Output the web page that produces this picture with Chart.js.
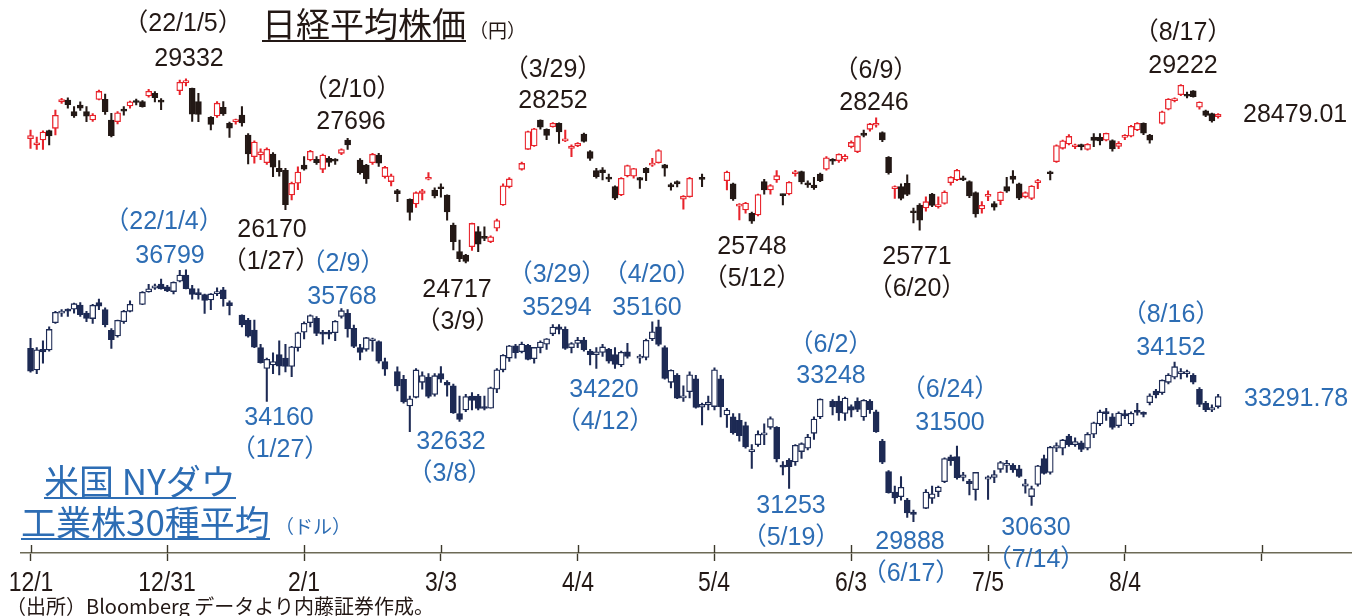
<!DOCTYPE html>
<html lang="ja">
<head>
<meta charset="utf-8">
<title>日経平均株価と米国NYダウ</title>
<script src="https://cdn.jsdelivr.net/npm/chart.js@4.4.1/dist/chart.umd.min.js"></script>
<style>
  html, body { margin: 0; padding: 0; background: #fff; }
  #wrap { position: relative; width: 1368px; height: 616px; overflow: hidden; }
  #chart { position: absolute; left: 0; top: 0; }
  .note { position: absolute; white-space: nowrap; font-family: "Liberation Sans", "Noto Sans CJK JP", sans-serif;
          font-size: 25px; line-height: 25px; transform: translate(-50%, -50%); }
  .note.left { transform: translate(0, -50%); }
  .tick { position: absolute; white-space: nowrap; font-family: "Liberation Sans", sans-serif; font-size: 28px;
          line-height: 28px; color: #231815; transform: translateX(-50%) scaleX(0.82); }
  .ttl { position: absolute; white-space: nowrap; font-family: "Noto Sans CJK JP", sans-serif; line-height: 1; }
  .ttl .u { display: inline-block; line-height: 34px; border-bottom: 2px solid currentColor; }
  .unit { position: absolute; white-space: nowrap; font-family: "Noto Sans CJK JP", sans-serif; font-size: 19px; line-height: 1; }
  #nkTitle { left: 262px; top: 6px; font-size: 34px; color: #231815; }
  #nkUnit { left: 469px; top: 20px; color: #231815; }
  #djTitle1 { left: 44px; top: 462px; font-size: 35px; color: #2d6db4; }
  #djTitle2 { left: 21px; top: 503px; font-size: 35px; color: #2d6db4; }
  #djUnit { left: 275px; top: 516px; color: #2d6db4; }
  #source { position: absolute; left: 6px; top: 596px; white-space: nowrap; font-family: "Noto Sans CJK JP", sans-serif;
            font-size: 20px; line-height: 1; color: #231815; }
</style>
</head>
<body>
<div id="wrap">
  <canvas id="chart" width="1368" height="616"></canvas>
  <div class="ttl" id="nkTitle"><span class="u">日経平均株価</span></div>
  <div class="unit" id="nkUnit">（円）</div>
  <div class="ttl" id="djTitle1"><span class="u">米国 NYダウ</span></div>
  <div class="ttl" id="djTitle2"><span class="u">工業株30種平均</span></div>
  <div class="unit" id="djUnit">（ドル）</div>
  <div id="source">（出所）Bloomberg データより内藤証券作成。</div>
</div>
<script>
// 期間: 2021/12/1 〜 2022/8/25 の営業日（土日を除いた平日で横軸を刻む）
const nkHolidays = ['2021-12-31', '2022-01-03', '2022-01-10', '2022-02-11', '2022-02-23', '2022-03-21',
  '2022-04-29', '2022-05-03', '2022-05-04', '2022-05-05', '2022-07-18', '2022-08-11'];
const djHolidays = ['2021-12-24', '2022-01-17', '2022-02-21', '2022-04-15', '2022-05-30', '2022-06-20', '2022-07-04'];

// 日経平均（円） 12月 / 1月 / 2月 / 3月 / 4月 / 5月 / 6月 / 7月 / 8月
const nkOpen = [
  27858, 27700, 27824, 28062, 28122, 28795, 28846, 28548, 28718, 28548, 28335, 28863, 28863, 28335, 28292, 28616, 28693, 28830, 28804, 28948, 29017, 28820,
  29085, 29290, 29145, 28804, 28403, 28437, 28659, 28250, 28292, 28463, 27952, 27397, 27440, 27244, 27466, 27100, 27050, 26417, 26716,
  27184, 27312, 27329, 27073, 27355, 27300, 27482, 27823, 27312, 27184, 27244, 27440, 26886, 26760, 26528, 26306, 26187, 26460,
  26820, 26545, 26613, 26417, 25650, 24968, 24883, 25096, 25480, 25330, 25220, 25565, 26161, 26630, 27073, 27585, 27670, 28330, 28096, 28165, 28250, 27800,
  27610, 27670, 27977, 27525, 27040, 27060, 26860, 26630, 26417, 26903, 26900, 26860, 27099, 27180, 27244, 27185, 26680, 26760, 26310, 26375,
  26860, 26784, 26700, 26130, 26034, 25949, 25906, 26758, 26545, 26800, 26420, 26443, 26960, 27014, 26720, 26673, 26954, 27074, 27320,
  27295, 27330, 27653, 27525, 28000, 28096, 28200, 28011, 27380, 26580, 26630, 26715, 26000, 26160, 26085, 26440, 26120, 26200, 26730, 26800, 26850, 26760,
  26480, 26060, 26380, 26200, 26270, 26630, 26900, 26700, 26370, 26330, 26730, 27000, 27270, 27610, 27720, 27650, 27700, 27580, 27900, 27890,
  27820, 27810, 27660, 27890, 27920, 28080, 28250, 27950, 28250, 28610, 28830, 28980, 28990, 29080, 28660, 28570, 28500, 28420
];
const nkHigh = [
  28079, 27900, 28060, 28080, 28591, 28889, 28900, 28676, 28800, 28676, 28500, 29100, 29000, 28505, 28550, 28680, 28820, 28870, 28830, 29120, 29060, 28880,
  29358, 29388, 29150, 29017, 28420, 28804, 28804, 28280, 28360, 28676, 27990, 27800, 27600, 27620, 27500, 27300, 27100, 26750, 27140,
  27397, 27560, 27400, 27460, 27400, 27350, 27600, 27866, 27350, 27200, 27480, 27480, 27150, 26950, 26560, 26320, 26500, 26560,
  26988, 26600, 26700, 26420, 25700, 25266, 24900, 25700, 25607, 25600, 25370, 25800, 26700, 26860, 27260, 28050, 28120, 28340, 28110, 28270, 28260, 28080,
  27700, 27760, 28000, 27550, 27100, 27120, 26950, 26650, 26860, 27180, 27100, 26870, 27120, 27355, 27580, 27200, 26720, 26780, 26400, 26870,
  26950, 27030, 26720, 26200, 26230, 25980, 26440, 26820, 26680, 27040, 26440, 26760, 27050, 27030, 26780, 26870, 26980, 27400, 27350,
  27470, 27450, 27800, 27930, 28080, 28250, 28389, 28030, 27400, 26650, 26700, 26930, 26080, 26200, 26370, 26460, 26370, 26520, 26890, 27070, 26900, 26780,
  26500, 26250, 26520, 26250, 26500, 26870, 27040, 26720, 26500, 26660, 26820, 27030, 27700, 27820, 27960, 27720, 27720, 27730, 27990, 27990,
  28000, 27830, 27780, 27960, 28200, 28270, 28260, 27970, 28560, 28880, 28900, 29240, 29050, 29090, 28800, 28590, 28510, 28500
];
const nkLow = [
  27611, 27580, 27585, 27696, 27951, 28760, 28640, 28400, 28580, 28292, 28300, 28850, 28480, 27900, 28233, 28460, 28640, 28720, 28660, 28920, 28800, 28600,
  28980, 29204, 28300, 28292, 28079, 28400, 28450, 27892, 28230, 28180, 27210, 27230, 27320, 27200, 26886, 26900, 26044, 26290, 26550,
  27050, 27290, 27200, 26990, 27150, 27200, 27450, 27580, 26950, 26715, 27200, 27150, 26850, 26650, 26247, 25775, 26100, 26290,
  26800, 26340, 26360, 25775, 25010, 24712, 24681, 25000, 24968, 25250, 25200, 25500, 26150, 26600, 27050, 27580, 27660, 28100, 27830, 28150, 27738, 27780,
  27400, 27650, 27770, 27300, 26850, 26800, 26760, 26300, 26400, 26880, 26850, 26588, 26780, 27150, 27230, 26900, 26540, 26620, 26051, 26360,
  26630, 26545, 26280, 25778, 25950, 25688, 25880, 26440, 26440, 26740, 26162, 26420, 26900, 26700, 26610, 26560, 26760, 27050, 27200,
  27250, 27280, 27620, 27500, 27900, 28050, 28150, 27780, 26950, 26330, 26290, 26400, 25700, 25520, 26000, 26120, 26080, 26180, 26670, 26780, 26780, 26350,
  25850, 25950, 26270, 26030, 26170, 26480, 26720, 26300, 26340, 26300, 26580, 26800, 27250, 27590, 27700, 27600, 27570, 27560, 27650, 27700,
  27800, 27540, 27600, 27830, 27900, 28060, 27960, 27740, 28230, 28590, 28800, 28960, 28900, 28920, 28610, 28420, 28280, 28380
];
const nkClose = [
  27935, 27753, 28029, 27927, 28455, 28860, 28725, 28437, 28640, 28432, 28459, 29066, 28545, 27937, 28517, 28562, 28798, 28782, 28676, 29069, 28906, 28791,
  29301, 29332, 28487, 28478, 28222, 28765, 28489, 28124, 28333, 28257, 27467, 27772, 27522, 27588, 27131, 27011, 26170, 26717, 27001,
  27078, 27533, 27241, 27439, 27248, 27284, 27579, 27696, 26990, 26830, 27460, 27232, 27122, 26910, 26449, 25970, 26476, 26526,
  26844, 26393, 26577, 25985, 25221, 24790, 24717, 25690, 25162, 25307, 25346, 25762, 26652, 26827, 27224, 28040, 28110, 28149, 27943, 28252, 28027, 27821,
  27665, 27736, 27787, 27350, 26888, 26985, 26821, 26334, 26843, 27172, 27093, 26799, 26985, 27217, 27553, 27105, 26620, 26700, 26386, 26847,
  26818, 27003, 26319, 26167, 26213, 25748, 26427, 26547, 26659, 26911, 26402, 26739, 27001, 26748, 26677, 26604, 26781, 27369, 27279,
  27457, 27413, 27761, 27915, 27943, 28234, 28246, 27824, 26987, 26629, 26326, 26431, 25963, 25771, 26246, 26149, 26171, 26491, 26871, 27049, 26804, 26393,
  25935, 26153, 26423, 26107, 26490, 26517, 26812, 26336, 26478, 26643, 26788, 26961, 27680, 27803, 27914, 27699, 27655, 27715, 27815, 27801,
  27993, 27594, 27741, 27932, 28175, 28249, 27999, 27819, 28546, 28871, 28868, 29222, 28942, 28930, 28794, 28452, 28313, 28479
];

// NYダウ（ドル） 12月 / 1月 / 2月 / 3月 / 4月 / 5月 / 6月 / 7月 / 8月
const djOpen = [
  34681, 34055, 34650, 34633, 35422, 35700, 35780, 35810, 35931, 35700, 35540, 36000, 35800, 35200, 35040, 35450, 35750, 35950, 36308, 36420, 36540, 36460,
  36320, 36620, 36800, 36410, 36250, 36230, 36080, 36260, 36370, 36000, 35640, 35500, 35210, 34700, 34100, 34200, 34500, 34400, 34160, 34700,
  35150, 35420, 35550, 35150, 35100, 35134, 35600, 35692, 35259, 34700, 34652, 34900, 34874, 34300, 34007, 33786, 33016, 33266, 33700,
  33850, 33350, 33950, 33700, 33600, 32800, 32900, 33300, 33300, 33000, 32950, 33500, 34060, 34400, 34750, 34580, 34770, 34380, 34700, 34800, 35100, 35300, 35230,
  34700, 34820, 34920, 34600, 34500, 34560, 34652, 34500, 34200, 34580, 34400, 34420, 34950, 35300, 34700, 33700, 33900, 33250, 33430, 33800,
  32980, 33050, 33000, 33800, 32760, 32700, 32600, 32450, 31700, 31900, 32180, 32400, 32400, 31300, 31450, 31400, 31700, 31800, 32227, 32700, 33150,
  33150, 32800, 33000, 33150, 32700, 33150, 32850, 32000, 31120, 30530, 30398, 30302, 29950, 30061, 30350, 30542, 30831, 31550, 31553, 30950, 30850,
  30600, 30900, 30950, 31187, 31300, 31300, 31200, 30700, 30400, 30750, 31500, 31100, 31800, 31800, 32150, 31900, 31950, 31800, 32200, 32500,
  32800, 32700, 32450, 32800, 32500, 32850, 32800, 33112, 33450, 33400, 33700, 33850, 33950, 33950, 33900, 33500, 33100, 32900, 33000
];
const djHigh = [
  34970, 34700, 34900, 35300, 35750, 35800, 35820, 35990, 36000, 35750, 35950, 36100, 35850, 35250, 35500, 35780, 36050, 36320, 36530, 36540, 36680, 36500,
  36600, 36934, 36950, 36500, 36400, 36250, 36260, 36430, 36440, 36050, 35650, 35550, 35500, 34800, 34400, 34550, 34900, 34800, 34740, 35150,
  35450, 35650, 35600, 35200, 35200, 35480, 35830, 35800, 35350, 34800, 35000, 34980, 34900, 34400, 34150, 33900, 33300, 34100, 34000,
  33950, 33950, 34152, 33750, 33650, 33300, 33350, 33400, 33350, 33300, 33560, 34100, 34500, 34770, 34800, 34860, 34800, 34710, 34900, 34960, 35370, 35370, 35300,
  34850, 35000, 35000, 34650, 34700, 34800, 34680, 34700, 34600, 34826, 34500, 34950, 35450, 35500, 34750, 34060, 33950, 33600, 34000, 33900,
  33100, 33300, 34120, 33900, 32950, 32800, 32800, 32550, 31900, 32300, 32500, 32700, 32420, 31409, 31500, 31900, 31950, 32200, 32700, 33220, 33200,
  33300, 33270, 33050, 33250, 33200, 33200, 32900, 32050, 31150, 30700, 30975, 30350, 30013, 30600, 30700, 30700, 31520, 31600, 31861, 31100, 30900,
  31100, 31000, 31150, 31420, 31450, 31350, 31300, 30900, 30700, 31300, 31600, 31850, 31950, 32050, 32200, 32100, 32000, 32250, 32550, 32900,
  32950, 32800, 32850, 32900, 32850, 33093, 32850, 33365, 33500, 33770, 33950, 34281, 34100, 34050, 33950, 33550, 33150, 33050, 33350
];
const djLow = [
  33990, 33950, 34250, 34600, 35400, 35600, 35600, 35700, 35600, 35450, 35400, 35800, 35300, 34680, 35000, 35400, 35730, 35940, 36300, 36380, 36390, 36320,
  36250, 36600, 36400, 36100, 36100, 35692, 35800, 36200, 35900, 35643, 35300, 35000, 34700, 34250, 33150, 33950, 33911, 34000, 33863, 34600,
  34950, 35300, 35050, 34800, 34950, 34900, 35550, 35000, 34700, 34344, 34600, 34600, 34250, 33900, 33450, 33100, 32272, 33250, 33500,
  33250, 33300, 33700, 33300, 32800, 32570, 32850, 32900, 32900, 32900, 32950, 33400, 34000, 34300, 34400, 34550, 34350, 34250, 34550, 34650, 35050, 35100, 34650,
  34550, 34700, 34600, 34200, 34100, 34450, 34250, 34100, 34150, 34400, 34250, 34350, 34900, 34750, 33790, 33540, 33230, 33150, 33250, 32950,
  32467, 32900, 32900, 32700, 32400, 32200, 32000, 31800, 31216, 31850, 31900, 32350, 31400, 31023, 30638, 31300, 31500, 31750, 32050, 32650, 32756,
  32600, 32600, 32700, 32850, 32600, 32800, 32250, 31350, 30500, 30200, 30300, 29800, 29676, 30050, 30200, 30400, 30800, 31300, 30900, 30850, 30446,
  30300, 30321, 30800, 31100, 31100, 31100, 30950, 30500, 30143, 30700, 31050, 31050, 31700, 31600, 31850, 31850, 31700, 31750, 32100, 32450,
  32600, 32350, 32400, 32650, 32450, 32750, 32700, 33050, 33250, 33350, 33650, 33800, 33800, 33850, 33650, 33000, 32850, 32850, 32950
];
const djClose = [
  34022, 34640, 34580, 35227, 35719, 35754, 35754, 35971, 35650, 35544, 35927, 35897, 35365, 34932, 35492, 35754, 35950, 36302, 36398, 36488, 36398, 36338,
  36585, 36799, 36407, 36236, 36231, 36068, 36252, 36290, 36113, 35911, 35368, 35029, 34715, 34265, 34364, 34297, 34168, 34160, 34725, 35131,
  35405, 35629, 35111, 35089, 35091, 35463, 35768, 35241, 34738, 34566, 34989, 34934, 34312, 34079, 33596, 33131, 33223, 34058, 33893,
  33294, 33891, 33794, 33614, 32817, 32632, 33286, 33174, 32944, 32945, 33544, 34063, 34480, 34754, 34553, 34807, 34358, 34707, 34861, 34955, 35294, 35228, 34678,
  34818, 34921, 34641, 34496, 34583, 34721, 34308, 34220, 34564, 34451, 34412, 34911, 35160, 34792, 33811, 34049, 33240, 33301, 33916, 32977,
  33061, 33128, 34061, 32997, 32899, 32246, 32161, 31834, 31730, 32197, 32223, 32655, 31490, 31253, 31262, 31880, 31928, 32120, 32637, 33213, 32990,
  32813, 33248, 32899, 32915, 33180, 32910, 32272, 31393, 30516, 30365, 30668, 29927, 29888, 30530, 30483, 30677, 31500, 31438, 30946, 31029, 30775,
  31097, 30967, 31037, 31384, 31338, 31173, 30981, 30772, 30630, 31288, 31072, 31827, 31874, 32036, 31899, 31990, 31761, 32197, 32529, 32845,
  32798, 32396, 32812, 32726, 32803, 32832, 32774, 33309, 33336, 33761, 33912, 34152, 33980, 33999, 33706, 33063, 32909, 32969, 33291
];

// 横軸の目盛り
const tickDates = ['2021-12-01', '2021-12-31', '2022-02-01', '2022-03-03', '2022-04-04', '2022-05-04', '2022-06-03', '2022-07-05', '2022-08-04', '2022-09-05'];
const tickLabels = ['12/1', '12/31', '2/1', '3/3', '4/4', '5/4', '6/3', '7/5', '8/4', ''];

// 注記（テキスト, 中心x, 中心y）
const nkNotes = [
  ['（22/1/5）', 183, 22], ['29332', 189, 57],
  ['（2/10）', 352, 88], ['27696', 351, 120],
  ['26170', 272, 228], ['（1/27）', 271, 260],
  ['24717', 457, 288], ['（3/9）', 458, 320],
  ['（3/29）', 553, 68], ['28252', 553, 99],
  ['25748', 752, 245], ['（5/12）', 752, 277],
  ['（6/9）', 876, 69], ['28246', 874, 101],
  ['25771', 917, 255], ['（6/20）', 917, 287],
  ['（8/17）', 1183, 31], ['29222', 1183, 64]
];
const djNotes = [
  ['（22/1/4）', 164, 220], ['36799', 170, 254],
  ['（2/9）', 343, 262], ['35768', 342, 295],
  ['（3/29）', 557, 273], ['35294', 557, 306],
  ['（4/20）', 652, 273], ['35160', 647, 306],
  ['34160', 279, 416], ['（1/27）', 280, 448],
  ['32632', 451, 440], ['（3/8）', 450, 472],
  ['34220', 604, 388], ['（4/12）', 605, 420],
  ['（6/2）', 831, 343], ['33248', 831, 374],
  ['（6/24）', 950, 388], ['31500', 950, 421],
  ['31253', 791, 504], ['（5/19）', 791, 536],
  ['29888', 910, 540], ['（6/17）', 911, 572],
  ['30630', 1036, 526], ['（7/14）', 1036, 558],
  ['（8/16）', 1171, 313], ['34152', 1171, 346]
];
const lastNotes = [['28479.01', 1243, 113, '#231815'], ['33291.78', 1244, 397, '#2d6db4']];

const RED = '#e8232b', BLACK = '#231815', NAVY = '#1d2a54', BLUE = '#2d6db4';
const START = Date.UTC(2021, 11, 1);
const DAY = 86400000;

// 2021/12/1 から数えた平日の通し番号
function weekdayIndex(iso) {
  const end = Date.parse(iso + 'T00:00:00Z');
  let n = 0;
  for (let t = START; t < end; t += DAY) {
    const wd = new Date(t).getUTCDay();
    if (wd !== 0 && wd !== 6) n++;
  }
  return n;
}

// 休場日を除いた営業日の通し番号
function tradingDays(holidays, count) {
  const days = [];
  let n = 0;
  for (let t = START; days.length < count; t += DAY) {
    const dt = new Date(t);
    const wd = dt.getUTCDay();
    if (wd === 0 || wd === 6) continue;
    if (!holidays.includes(dt.toISOString().slice(0, 10))) days.push(n);
    n++;
  }
  return days;
}

function candles(days, o, h, l, c, upColor, downColor, axis) {
  const up = c.map((v, i) => v >= o[i]);
  return [{
    type: 'bar', yAxisID: axis, order: 2, grouped: false,
    data: days.map((d, i) => ({ x: d, y: [l[i], h[i]] })),
    backgroundColor: up.map(u => (u ? upColor : downColor)),
    borderWidth: 0, barThickness: 1.4
  }, {
    type: 'bar', yAxisID: axis, order: 1, grouped: false,
    data: days.map((d, i) => ({ x: d, y: [o[i], c[i]] })),
    backgroundColor: up.map(u => (u ? '#ffffff' : downColor)),
    borderColor: up.map(u => (u ? upColor : downColor)),
    borderWidth: 1.3, borderSkipped: false,
    barThickness: 6, minBarLength: 2
  }];
}

const nkDays = tradingDays(nkHolidays, nkClose.length);
const djDays = tradingDays(djHolidays, djClose.length);
const tickDays = tickDates.map(weekdayIndex);

// 目盛りの上半分を描く
const crossTicks = {
  id: 'crossTicks',
  afterDraw(chart) {
    const { ctx, chartArea, scales } = chart;
    ctx.save();
    ctx.strokeStyle = '#3d3a2c';
    ctx.lineWidth = 1.4;
    scales.x.ticks.forEach(t => {
      const px = Math.round(scales.x.getPixelForValue(t.value)) + 0.5;
      ctx.beginPath();
      ctx.moveTo(px, chartArea.bottom - 8);
      ctx.lineTo(px, chartArea.bottom);
      ctx.stroke();
    });
    ctx.restore();
  }
};

const chart = new Chart(document.getElementById('chart'), {
  type: 'bar',
  data: {
    datasets: [
      ...candles(nkDays, nkOpen, nkHigh, nkLow, nkClose, RED, BLACK, 'yN'),
      ...candles(djDays, djOpen, djHigh, djLow, djClose, NAVY, NAVY, 'yD')
    ]
  },
  options: {
    responsive: false,
    animation: false,
    layout: { padding: { left: 21.2, right: 16.2, top: 0, bottom: 55 } },
    plugins: { legend: { display: false }, tooltip: { enabled: false } },
    scales: {
      x: {
        type: 'linear',
        min: -1.5,
        max: 212.5,
        offset: false,
        afterBuildTicks: scale => { scale.ticks = tickDays.map(v => ({ value: v })); },
        grid: { display: true, offset: false, drawOnChartArea: false, drawTicks: true, tickLength: 8, tickColor: '#3d3a2c', tickWidth: 1.4 },
        border: { display: true, color: '#6d6a56', width: 1.6 },
        ticks: { display: false, autoSkip: false, maxRotation: 0 }
      },
      yN: { type: 'linear', display: false, min: 17260, max: 31404 },
      yD: { type: 'linear', display: false, min: 28771, max: 44740 }
    }
  },
  plugins: [crossTicks]
});

const wrap = document.getElementById('wrap');

// 横軸ラベル（縦長の書体を再現するため横方向に詰める）
tickDays.forEach((d, i) => {
  if (!tickLabels[i]) return;
  const el = document.createElement('div');
  el.className = 'tick';
  el.textContent = tickLabels[i];
  el.style.left = chart.scales.x.getPixelForValue(d) + 'px';
  el.style.top = (chart.chartArea.bottom + 15) + 'px';
  wrap.appendChild(el);
});

// 注記テキスト
function addNote(text, x, y, color, left) {
  const el = document.createElement('div');
  el.className = left ? 'note left' : 'note';
  el.textContent = text;
  el.style.left = x + 'px';
  el.style.top = y + 'px';
  el.style.color = color;
  wrap.appendChild(el);
}
nkNotes.forEach(([t, x, y]) => addNote(t, x, y, BLACK));
djNotes.forEach(([t, x, y]) => addNote(t, x, y, BLUE));
lastNotes.forEach(([t, x, y, c]) => addNote(t, x, y, c, true));
</script>
</body>
</html>
